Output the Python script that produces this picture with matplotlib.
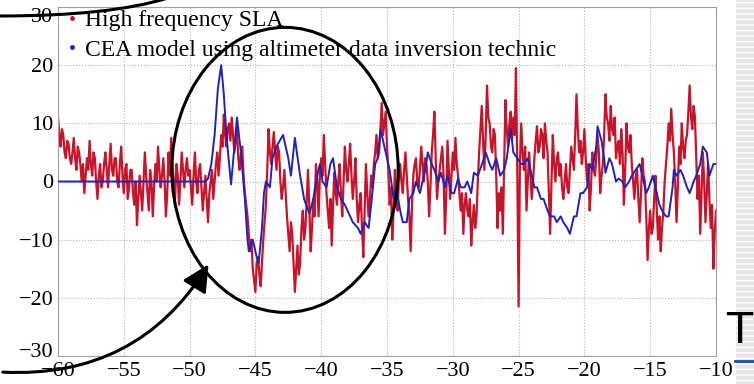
import numpy as np
import matplotlib.pyplot as plt
from matplotlib.lines import Line2D
from matplotlib.patches import Ellipse, FancyArrowPatch, PathPatch, Rectangle
from matplotlib.path import Path
from matplotlib.transforms import ScaledTranslation

# high frequency SLA, sampled every 0.1 from -60 to -10
red_y = [
    # -60 .. -50.1
    11, 8, 6, 9, 8, 5, 4, 7, 6.5, 4, 3, 5, 7.5, 4, 2, 6, 5, 3, 0, 3,
    -2, 1, 4, 2, 7, 3, 1, 5, 4, 0, -3, 1, 3, -1, 0, 3, 5, 2, -1, 3,
    6.5, 2, 1, 4, 4, 0, -1, 3, 6, 1, -2, 2, 3, -3, -1, 2, 2, -2, -4, 0,
    -7.5, -3, 1, -2, -5, 0, 5, 1, -2, -5, 2, 0, -6, -1, 3, 0, 6, 2, -1, 1,
    4, 0, -6, -2, 5, 1, 7.5, 3, 0, -3, 3, 1, -4, 0, 5, 2, -1, 2, 4, 1,
    # -50 .. -40.1
    2, -1, -4, 1, 5, 0, -2, 2, 3, -1, -5, -2, 1, -3, -7, -2, 0, 2, -3, 0,
    3, 5, 1, 4, 8, 6, 11.5, 8, 6, 9, 10, 7, 11, 8, 5, 7, 9, 4, 2, 5,
    6, 1, -2, -4, -6, -9, -12, -10, -15, -17, -19, -14, -13, -16, -18, -14, -10, -7, -4, 2,
    9, 5, 3, 6, 8.5, 5, 2, 6, 5, 0, -3, -1, 2, -2, -6, -9, -12, -7, -9, -14,
    -19, -15, -11, -16, -14, -8, -5, -10, -8, -3, 2, -5, -12, -8, -3, -6, 3, 0, -6, 1,
    # -40 .. -30.1
    4, 1, 8, 3, -2, -5, -8, -3, -11, -4, 1.5, -2, -4, 0, 3, -2, -6, 0, 6, 2,
    0, 3, 6.5, 1, -3, 0, 4, -3, -7, -4, -2, -8, -13, -5, 3, -2, -6, -3, 1, -1,
    3, 5, 8, 4, 5, 9, 13.5, 8, 10, 12, 6, 2, -4, -1, -10, -5, 2, -2, -5, 0,
    3, 0, -2, 2, 5, 1, -3, -6, -12, -4, 1, 3, 4, 0, -1, 2, 6, 3, 0, 4,
    3, 0, -6, -1, 5, 8, 12, 4, -3, 0, 2, 4, 6, 1, -9, -3, 7, 2, -3, 1,
    # -30 .. -20.1
    5, 2, 7.5, 3, 1, -2, -5, -2, -9, -4, -2, -5, -6, -3, -11, -7, -4, -8, -6, 0,
    5, 9, 13, 7, 2, 8, 16.5, 11, 10, 6, 5, 9, 8, 1, -8, -2, -5, -1, -9, 3,
    14, 9, 6, 10, 12, 7, 11, 8, 19.5, 2, -21.5, 3, 10, 5, 2, 6, -5, 0, 5, 1,
    -3, 0, 4, 7, 9.5, 5, 6, 9, 8, 4, 10, 7, 5, -2, -9, 0, 8, 3, 0, 4,
    5, 1, 3, -1, -3, 0, 3, -1, -2, 2, 6, 4, 2, 8, 15, 9, 5, 7, 3, 5,
    # -20 .. -10
    9, 4, 0, 3, -5, -1, 5, 2, 1, 4, 8, 5, -2, 1, 3, 8, 15, 11, 10, 7,
    13, 9, 8, 11, 4, 6, 7, 3, 9, 5, -4, 2, 10, 6, 5, 8, 3, 0, -3, 1,
    2, -3, -7, -2, 4, 1, 0, -6, -13.5, -8, -5, -9, -8, -3, 1, -5, -10, -6, -12, -8,
    -5, 0, 3, 6, 10, 7, 12.5, 8, 5, 0, -7, -1, 6, 3, 10, 6, 4, 7, 8, 12,
    16.5, 11, 9, 13, 11, 4, -3, 1, -9, -2, 5, 0, -7, -2, 3, -3, -8, -4, -15, -9,
    -5,
]
red_x = np.linspace(-60, -10, len(red_y))

# CEA model using altimeter data inversion
blue_x = [
    -60, -48.8, -48.6, -48.35, -48.1, -47.85, -47.6, -47.4, -47.2, -47.0,
    -46.85, -46.6, -46.4, -46.1, -45.8, -45.6, -45.5, -45.2, -44.9, -44.75,
    -44.5, -44.35, -44.2, -43.9, -43.7, -43.4, -42.9, -42.5, -42.3, -42.0,
    -41.85, -41.6, -41.3, -40.9, -40.6, -40.4, -40.1, -39.9, -39.6, -39.3,
    -39.1, -38.8, -38.5, -38.2, -38.0, -37.6, -37.2, -37.0, -36.7, -36.4,
    -36.2, -35.9, -35.7, -35.5, -35.3, -35.1, -34.8, -34.5, -34.3, -34.0,
    -33.8, -33.5, -33.3, -33.0, -32.8, -32.5, -32.1, -31.9, -31.6, -31.4,
    -31.1, -30.9, -30.6, -30.4, -30.1, -29.9, -29.6, -29.4, -29.1, -28.9,
    -28.6, -28.4, -28.1, -27.7, -27.5, -27.2, -27.0, -26.7, -26.4, -26.1,
    -25.9, -25.6, -25.4, -25.1, -24.8, -24.6, -24.3, -24.1, -23.8, -23.6,
    -23.3, -23.1, -22.8, -22.6, -22.3, -22.1, -21.8, -21.6, -21.3, -21.1,
    -20.8, -20.6, -20.3, -20.1, -19.8, -19.6, -19.4, -19.1, -19.0, -18.7,
    -18.5, -18.4, -18.1, -17.9, -17.6, -17.4, -17.1, -16.9, -16.6, -16.4,
    -16.1, -15.8, -15.6, -15.3, -15.1, -14.8, -14.6, -14.3, -14.1, -13.8,
    -13.6, -13.3, -13.2, -13.0, -12.7, -12.5, -12.2, -12.0, -11.7, -11.5,
    -11.2, -11.0, -10.7, -10.5, -10.2, -10.0,
]
blue_y = [
    0, 0, 0.5, 3, 8, 16, 20, 15, 8, 3,
    -0.5, 6, 11, 5, -3, -10, -12, -10, -13, -14,
    -8, -2, 0, -1, 4, 6, 8, 4, 1, 7.5,
    5, 1, -3, -5.5, -3, 0, 3, 0, -1, 3,
    4, -1, -3, -4, -5, -7, -8, -9, -7, -8,
    -4, 3, 4, 9, 7, 5, 2, -3, -1, -5,
    -7, -7, -3, -2, 0, -2, 2, 5, 3, 2,
    0, 1.5, -1, 1, -2, -2, 0.5, -1, -1, 0,
    -2, 1.5, 1, 3.5, 5, 3, 2, 4, 1, 2,
    4, 9, 5, 4, 3, 3, 4, 2, -1, -1,
    -3, -3, -5, -6, -6, -7, -6, -7, -8, -9,
    -6, -6, -2, -2, -1, 3, 2, 6, 9.5, 7,
    4, 1.5, 4, 3, 0, 0.5, 0, -1, 0, 1,
    2, 3, 1, -2, -1, 1, -1, -4, -5, -6,
    -6, -1, 2, 1, 2, 1, -1, -2, 0, 1,
    3, 6, 5, 1, 3, 3,
]

labels = ["High frequency SLA", "CEA model using altimeter data inversion technic"]
xticks = [-60, -55, -50, -45, -40, -35, -30, -25, -20, -15, -10]
yticks = [-30, -20, -10, 0, 10, 20, 30]

W, H = 754, 384
plt.rcParams['font.family'] = ['Liberation Serif', 'DejaVu Serif']

fig = plt.figure(figsize=(W / 100, H / 100), dpi=100)
ax = fig.add_axes([58 / W, 1 - 356 / H, (716 - 58) / W, (356 - 7) / H])


def px(x, y):
    # pixel position (from top-left) -> figure fraction
    return (x / W, 1 - y / H)


ax.plot(red_x, red_y, color='#c8142a', lw=1.6, zorder=2)
ax.plot(blue_x, blue_y, color='#2222b4', lw=1.4, zorder=3)

ax.set_xlim(-60, -10)
ax.set_ylim(-30, 30)
ax.set_xticks(xticks)
ax.set_yticks(yticks)
ax.tick_params(length=0, labelsize=16)
ax.tick_params(axis='x', pad=4)
ax.grid(True, ls=':', color='#b5b5b5', lw=0.8)
for s in ax.spines.values():
    s.set_color('#a0a0a0')
    s.set_linewidth(0.8)

# end labels of the y axis sit a bit inside, as in the original
ylabs = ax.get_yticklabels()
ylabs[0].set_transform(ylabs[0].get_transform() + ScaledTranslation(0, 6 / 100, fig.dpi_scale_trans))
ylabs[-1].set_transform(ylabs[-1].get_transform() + ScaledTranslation(0, -8 / 100, fig.dpi_scale_trans))

handles = [Line2D([], [], ls='none', marker='.', ms=5, color='#c8142a'),
           Line2D([], [], ls='none', marker='.', ms=5, color='#2222b4')]
ax.legend(handles, labels, loc='upper left', bbox_to_anchor=(0.0106, 0.993),
          frameon=False, fontsize=17, handlelength=0.6, handletextpad=0.26,
          labelspacing=0.34, borderpad=0, borderaxespad=0)

# annotation ellipse round the event
ax.add_patch(Ellipse((-42.75, 2.0), 17.2, 49, fill=False, lw=2.2,
                     color='black', clip_on=False, zorder=5))

arrow = FancyArrowPatch(px(0, 372), px(210, 262), transform=fig.transFigure,
                        connectionstyle='arc3,rad=0.3',
                        arrowstyle='-|>,head_length=0.9,head_width=0.45',
                        mutation_scale=18, lw=2.2, color='black', zorder=6)
fig.add_artist(arrow)

top_curve = Path([px(0, 16), px(110, 16), px(168, -2)],
                 [Path.MOVETO, Path.CURVE3, Path.CURVE3])
fig.add_artist(PathPatch(top_curve, transform=fig.transFigure, fill=False,
                         lw=2.2, color='black'))

# slide background bits at the right edge
fig.add_artist(Rectangle(px(736, 384), 18 / W, 384 / H, transform=fig.transFigure,
                         facecolor='#e6e6e6', edgecolor='white', hatch='---',
                         lw=0, zorder=0))
fig.text(*px(752, 343), 'T', family='DejaVu Sans', fontsize=31,
         ha='right', va='baseline')
fig.add_artist(Line2D([735 / W, 1], [1 - 361 / H] * 2, color='#2244bb', lw=2))

fig.savefig('out.png', dpi=100)
